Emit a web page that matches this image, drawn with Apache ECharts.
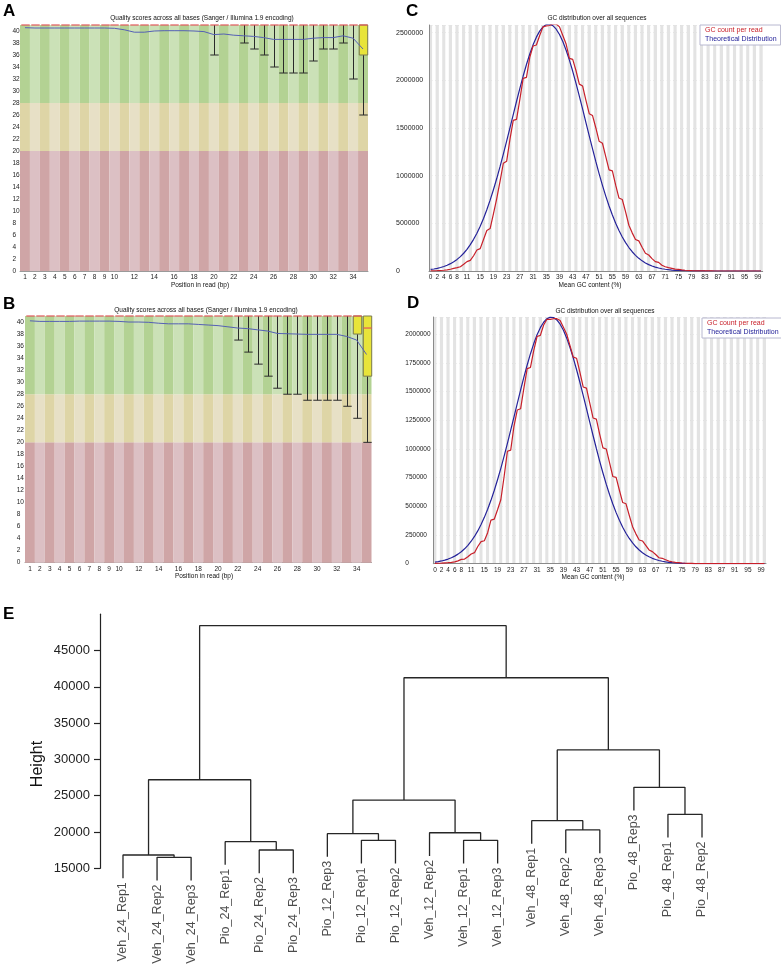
<!DOCTYPE html>
<html><head><meta charset="utf-8">
<script src="https://cdn.jsdelivr.net/npm/echarts@6/dist/echarts.min.js"></script>
<style>html,body{margin:0;padding:0;background:#fff}#c{width:781px;height:967px}</style>
</head><body><div id="c"></div>
<script>
// ================= DATA =================
// Panels A/B: per-base quality
const qPositions = ['1','2','3','4','5','6','7','8','9','10','11','12','13','14','15','16','17','18','19','20','21','22','23','24','25','26','27','28','29','30','31','32','33','34','35'];
const qTickLabels = ['1','2','3','4','5','6','7','8','9','10','12','14','16','18','20','22','24','26','28','30','32','34'];
const qZoneBounds = [20, 28, 41]; // poor / reasonable / good (upper bounds)

const qaMean = [40.55,40.5,40.5,40.5,40.5,40.5,40.5,40.5,40.5,40.45,40.2,39.8,39.8,40.0,40.05,40.05,40.05,40.0,39.9,39.4,39.5,39.3,39.2,39.1,38.9,38.6,38.6,38.6,38.6,38.8,38.9,38.9,39.2,38.8,37.0];
const qaLow    = [41,41,41,41,41,41,41,41,41,41,41,41,41,41,41,41,41,41,41,36,41,41,38,37,36,34,33,33,33,35,37,37,38,32,26];
const qaQ1     = [41,41,41,41,41,41,41,41,41,41,41,41,41,41,41,41,41,41,41,41,41,41,41,41,41,41,41,41,41,41,41,41,41,41,36];
const qaMedian = [41,41,41,41,41,41,41,41,41,41,41,41,41,41,41,41,41,41,41,41,41,41,41,41,41,41,41,41,41,41,41,41,41,41,41];
const qaQ3     = [41,41,41,41,41,41,41,41,41,41,41,41,41,41,41,41,41,41,41,41,41,41,41,41,41,41,41,41,41,41,41,41,41,41,41];
const qaHigh   = [41,41,41,41,41,41,41,41,41,41,41,41,41,41,41,41,41,41,41,41,41,41,41,41,41,41,41,41,41,41,41,41,41,41,41];

const qbMean = [40.2,40.1,40.1,40.1,40.1,40.15,40.15,40.15,40.15,40.1,40.0,40.0,39.95,39.8,39.7,39.7,39.7,39.6,39.5,39.4,39.2,39.0,38.9,38.7,38.5,38.1,38.05,38.0,37.95,37.95,37.95,37.95,37.6,37.0,34.6];
const qbLow    = [41,41,41,41,41,41,41,41,41,41,41,41,41,41,41,41,41,41,41,41,41,37,35,33,31,29,28,28,27,27,27,27,26,24,20];
const qbQ1     = [41,41,41,41,41,41,41,41,41,41,41,41,41,41,41,41,41,41,41,41,41,41,41,41,41,41,41,41,41,41,41,41,41,38,31];
const qbMedian = [41,41,41,41,41,41,41,41,41,41,41,41,41,41,41,41,41,41,41,41,41,41,41,41,41,41,41,41,41,41,41,41,41,41,39];
const qbQ3     = [41,41,41,41,41,41,41,41,41,41,41,41,41,41,41,41,41,41,41,41,41,41,41,41,41,41,41,41,41,41,41,41,41,41,41];
const qbHigh   = [41,41,41,41,41,41,41,41,41,41,41,41,41,41,41,41,41,41,41,41,41,41,41,41,41,41,41,41,41,41,41,41,41,41,41];

// Panels C/D: GC distribution
const gcPercent = ['0','1','2','3','4','5','6','7','8','9','10','11','12','13','14','15','16','17','18','19','20','21','22','23','24','25','26','27','28','29','30','31','32','33','34','35','36','37','38','39','40','41','42','43','44','45','46','47','48','49','50','51','52','53','54','55','56','57','58','59','60','61','62','63','64','65','66','67','68','69','70','71','72','73','74','75','76','77','78','79','80','81','82','83','84','85','86','87','88','89','90','91','92','93','94','95','96','97','98','99','100'];
const gcTickLabels = ['0','2','4','6','8','11','15','19','23','27','31','35','39','43','47','51','55','59','63','67','71','75','79','83','87','91','95','99'];

const gcCountC = [1000,2000,3000,5000,8000,12000,18000,28000,36000,45000,
  70000,98000,112000,160000,220000,235000,330000,425000,445000,600000,
  760000,940000,1130000,1150000,1380000,1580000,1590000,1800000,2020000,2030000,
  2240000,2360000,2370000,2470000,2560000,2570000,2575000,2590000,2590000,2560000,
  2470000,2380000,2230000,2220000,2100000,1960000,1940000,1790000,1650000,1630000,
  1500000,1360000,1340000,1200000,1060000,1050000,900000,765000,750000,620000,
  480000,400000,330000,316000,250000,186000,168000,130000,98000,90000,
  60000,45000,35000,28000,20000,17000,12000,8000,5000,3000,
  2000,1000,1000,1000,500,500,0,0,0,0,
  0,0,0,0,0,0,0,0,0,0,0];
const gcTheoryC = [16100,21300,28000,36500,47200,60500,77000,97200,121700,151200,
  186100,227600,276100,332100,396300,469300,551400,642600,742800,852100,
  969700,1094500,1225800,1361800,1500900,1641000,1780100,1915600,2044800,2165800,
  2275300,2371700,2452500,2515700,2560200,2585000,2589100,2572600,2535900,2479900,
  2406100,2315700,2211100,2094500,1968100,1834800,1697000,1556800,1417200,1279800,
  1146300,1018900,898300,785600,681800,586900,501300,424600,356900,297600,
  246100,202000,164400,132800,106400,84600,66700,52200,40500,31200,
  23800,18100,13600,10100,7500,5500,4000,2900,2100,1500,
  1000,700,500,350,250,150,100,50,50,0,
  0,0,0,0,0,0,0,0,0,0,0];

const gcCountD = [3000,4000,5000,7000,9000,12000,16000,25000,38000,40000,
  60000,85000,96000,150000,192000,200000,270000,380000,388000,470000,
  557000,760000,980000,990000,1200000,1340000,1350000,1530000,1700000,1710000,
  1860000,1980000,1990000,2080000,2130000,2130000,2135000,2135000,2120000,2060000,
  2000000,1900000,1800000,1790000,1670000,1540000,1530000,1400000,1270000,1260000,
  1130000,1010000,1000000,880000,760000,752000,640000,533000,522000,420000,
  323000,260000,207000,198000,160000,120000,105000,80000,52000,47000,
  35000,23000,17000,12000,9000,6000,4000,3000,2000,1000,
  0,0,0,0,0,0,0,0,0,0,
  0,0,0,0,0,0,0,0,0,0,0];
const gcTheoryD = [13700,18200,23900,31200,40400,51800,66000,83400,104400,129800,
  160000,195700,237400,285700,341000,403800,474100,552300,638100,731400,
  831400,937600,1048800,1163600,1280500,1397900,1513600,1625600,1731800,1830100,
  1918400,1994600,2057100,2104400,2135300,2149200,2145700,2124800,2087300,2033900,
  1965700,1884500,1791800,1690100,1581300,1467600,1351100,1233500,1117400,1003800,
  894400,790600,693200,602900,520100,445100,377800,318000,265500,219900,
  180800,147300,119100,95500,76000,59900,46900,36400,28000,21400,
  16200,12200,9100,6700,4900,3600,2600,1800,1300,900,
  600,400,300,200,100,0,0,0,0,0,
  0,0,0,0,0,0,0,0,0,0,0];

// Panel E: hierarchical clustering dendrogram (leaves in display order)
const leafLabels = ['Veh_24_Rep1','Veh_24_Rep2','Veh_24_Rep3','Pio_24_Rep1','Pio_24_Rep2','Pio_24_Rep3',
  'Pio_12_Rep3','Pio_12_Rep1','Pio_12_Rep2','Veh_12_Rep2','Veh_12_Rep1','Veh_12_Rep3',
  'Veh_48_Rep1','Veh_48_Rep2','Veh_48_Rep3','Pio_48_Rep3','Pio_48_Rep1','Pio_48_Rep2'];
const leafBottoms = [13640,13320,13320,15480,14330,14330,16580,15660,15660,16710,15660,15660,18370,17090,17090,22970,19250,19250];
// negative = leaf (1-based display index), positive = earlier merge (1-based)
const mergePairs = [[-2,-3],[-1,1],[-5,-6],[-4,3],[-8,-9],[-11,-12],[-7,5],[-10,6],[-14,-15],[-13,9],
  [-17,-18],[7,8],[-16,11],[2,4],[10,13],[12,15],[14,16]];
const mergeHeights = [16510,16830,17520,18670,18850,18850,19770,19900,20280,21560,22440,24400,26160,27200,31300,41250,48420];
const heightTicks = [15000,20000,25000,30000,35000,40000,45000];

// ================= STYLE =================
const FONT = 'Liberation Sans, Arial, sans-serif';
const zoneDark  = ['#cfa5a6','#ded5a6','#b3d293'];
const zoneLight = ['#dcc0c4','#e7e0c6','#cbe1b7'];
const plain = v => String(v);

const grids = [
  {left:20, top:25, width:348, height:246},          // A
  {left:25, top:316, width:346.5, height:246.7},     // B
  {left:429, top:25, width:333.7, height:246},       // C
  {left:433.3, top:317, width:332.7, height:246.7},  // D
  {left:100, top:614.2, width:625, height:254.1}     // E
];

function qXAxis(gi){
  return {type:'category', gridIndex:gi, data:qPositions, boundaryGap:true,
    axisTick:{show:false}, axisLine:{show:true, lineStyle:{color:'#9a9a9a', width:1}},
    axisLabel:{interval:(i,v)=>qTickLabels.indexOf(v)>=0, fontSize:6.5, color:'#222', fontFamily:FONT, margin:3},
    splitLine:{show:false}};
}
function qYAxis(gi, margin){
  return {type:'value', gridIndex:gi, min:0, max:41, interval:2,
    axisLine:{show:false}, axisTick:{show:false}, splitLine:{show:false},
    axisLabel:{fontSize:6.5, color:'#222', fontFamily:FONT, margin:margin, align:'left', showMaxLabel:false, formatter:plain}};
}
function gcXAxis(gi){
  return {type:'category', gridIndex:gi, data:gcPercent, boundaryGap:true,
    axisTick:{show:false}, axisLine:{show:true, lineStyle:{color:'#8a8a8a', width:1}},
    axisLabel:{interval:(i,v)=>gcTickLabels.indexOf(v)>=0, fontSize:6.5, color:'#222', fontFamily:FONT, margin:3},
    splitArea:{show:true, interval:0, areaStyle:{color:['#e3e3e3','#ffffff']}},
    splitLine:{show:false}};
}
function gcYAxis(gi, max, interval, fs, margin){
  return {type:'value', gridIndex:gi, min:0, max:max, interval:interval,
    axisLine:{show:true, lineStyle:{color:'#8a8a8a'}}, axisTick:{show:false},
    splitLine:{show:true, lineStyle:{color:'#c8c8c8', width:1}},
    axisLabel:{fontSize:fs, color:'#222', fontFamily:FONT, margin:margin, align:'left', showMaxLabel:false, formatter:plain}};
}

function boxRender(params, api){
  const i = api.value(0);
  const low = api.value(1), q1 = api.value(2), med = api.value(3), q3 = api.value(4), high = api.value(5);
  const pLow = api.coord([i, low]), pQ1 = api.coord([i, q1]), pMed = api.coord([i, med]);
  const pQ3 = api.coord([i, q3]), pHigh = api.coord([i, high]);
  const w = api.size([1, 0])[0] * 0.85;
  const x = Math.round(pLow[0]) + 0.5;
  const ch = [];
  const wStyle = {stroke:'#2a2a2a', lineWidth:1};
  if (low < q1) {
    ch.push({type:'line', shape:{x1:x, y1:pQ1[1], x2:x, y2:pLow[1]}, style:wStyle});
    ch.push({type:'line', shape:{x1:x-w/2, y1:pLow[1], x2:x+w/2, y2:pLow[1]}, style:wStyle});
  }
  if (high > q3) {
    ch.push({type:'line', shape:{x1:x, y1:pQ3[1], x2:x, y2:pHigh[1]}, style:wStyle});
    ch.push({type:'line', shape:{x1:x-w/2, y1:pHigh[1], x2:x+w/2, y2:pHigh[1]}, style:wStyle});
  }
  if (q3 > q1) {
    ch.push({type:'rect', shape:{x:x-w/2, y:pQ3[1], width:w, height:pQ1[1]-pQ3[1]},
      style:{fill:'#e8e43a', stroke:'#7a7a50', lineWidth:1}});
  }
  ch.push({type:'line', shape:{x1:x-w/2, y1:pMed[1], x2:x+w/2, y2:pMed[1]}, style:{stroke:'#e0585a', lineWidth:1.2}});
  return {type:'group', children:ch};
}

function qualitySeries(gi, mean, low, q1, med, q3, high){
  const s = [];
  const zoneVals = [qZoneBounds[0], qZoneBounds[1]-qZoneBounds[0], qZoneBounds[2]-qZoneBounds[1]];
  zoneVals.forEach((zv, z) => {
    s.push({type:'bar', xAxisIndex:gi, yAxisIndex:gi, stack:'zone'+gi, silent:true, z:1,
      barCategoryGap:'0%', data:qPositions.map(()=>zv),
      itemStyle:{color:(p)=> p.dataIndex % 2 === 0 ? zoneDark[z] : zoneLight[z]}});
  });
  s.push({type:'custom', xAxisIndex:gi, yAxisIndex:gi, z:3, silent:true, renderItem:boxRender,
    encode:{x:0, y:[1,2,3,4,5]},
    data:qPositions.map((p,i)=>[i, low[i], q1[i], med[i], q3[i], high[i]])});
  s.push({type:'line', xAxisIndex:gi, yAxisIndex:gi, z:4, silent:true, data:mean, symbol:'none',
    lineStyle:{color:'#5560b5', width:1}});
  return s;
}

function gcSeries(gi, count, theory){
  return [
    {type:'line', name:'GC count per read', xAxisIndex:gi, yAxisIndex:gi, data:count, symbol:'none', z:4,
      lineStyle:{color:'#c8202a', width:1.2}},
    {type:'line', name:'Theoretical Distribution', xAxisIndex:gi, yAxisIndex:gi, data:theory, symbol:'none', z:3,
      lineStyle:{color:'#25239a', width:1.2}}
  ];
}

// dendrogram
function dendroSeries(gi){
  const s = [];
  const clusterX = [];
  const xOf = id => id < 0 ? -id : clusterX[id-1];
  const yOf = id => id < 0 ? leafBottoms[-id-1] : mergeHeights[id-1];
  mergePairs.forEach(([a,b], k) => {
    const xa = xOf(a), xb = xOf(b), ya = yOf(a), yb = yOf(b), h = mergeHeights[k];
    clusterX[k] = (xa + xb) / 2;
    s.push({type:'line', xAxisIndex:gi, yAxisIndex:gi, clip:false, silent:true, symbol:'none',
      data:[[xa,ya],[xa,h],[xb,h],[xb,yb]], lineStyle:{color:'#262626', width:1.3}});
  });
  s.push({type:'scatter', xAxisIndex:gi, yAxisIndex:gi, clip:false, silent:true, symbolSize:0.01,
    data:leafLabels.map((n,i)=>[i+1, leafBottoms[i]]),
    label:{show:true, position:'bottom', distance:4, rotate:90, align:'right', verticalAlign:'middle',
      formatter:(p)=>leafLabels[p.dataIndex], fontSize:12.5, color:'#1e1e1e', fontFamily:FONT}});
  return s;
}

const legendBase = {orient:'vertical', selectedMode:false, icon:'rect', itemWidth:0, itemHeight:0, itemGap:2,
  padding:[2,4,2,0], backgroundColor:'#ffffff', borderColor:'#b8b8d0', borderWidth:1,
  textStyle:{fontSize:7, fontFamily:FONT}};

const option = {
  animation:false,
  backgroundColor:'#ffffff',
  grid: grids,
  xAxis: [qXAxis(0), qXAxis(1), gcXAxis(2), gcXAxis(3),
    {type:'value', gridIndex:4, min:0.325, max:18.675, show:false}],
  yAxis: [qYAxis(0, 7.5), qYAxis(1, 8.3), gcYAxis(2, 2580000, 500000, 7, 33), gcYAxis(3, 2150000, 250000, 6.5, 28),
    {type:'value', gridIndex:4, min:15000, max:50000, interval:5000,
      axisLine:{show:true, lineStyle:{color:'#222', width:1.2}},
      axisTick:{show:true, length:6, customValues:heightTicks, lineStyle:{color:'#222', width:1.2}},
      axisLabel:{customValues:heightTicks, fontSize:13, color:'#222', fontFamily:FONT, margin:10, formatter:plain},
      splitLine:{show:false}}],
  legend: [
    Object.assign({}, legendBase, {left:700, top:25,
      data:[{name:'GC count per read', textStyle:{color:'#c8202a'}}, {name:'Theoretical Distribution', textStyle:{color:'#25239a'}}]}),
    Object.assign({}, legendBase, {left:702, top:318,
      data:[{name:'GC count per read', textStyle:{color:'#c8202a'}}, {name:'Theoretical Distribution', textStyle:{color:'#25239a'}}]})
  ],
  graphic: [
    {type:'text', x:3, y:11.5, style:{text:'A', font:'bold 17px '+FONT, fill:'#000', textVerticalAlign:'middle'}},
    {type:'text', x:3, y:304, style:{text:'B', font:'bold 17px '+FONT, fill:'#000', textVerticalAlign:'middle'}},
    {type:'text', x:406, y:11, style:{text:'C', font:'bold 17px '+FONT, fill:'#000', textVerticalAlign:'middle'}},
    {type:'text', x:407, y:303.5, style:{text:'D', font:'bold 17px '+FONT, fill:'#000', textVerticalAlign:'middle'}},
    {type:'text', x:3, y:614, style:{text:'E', font:'bold 17px '+FONT, fill:'#000', textVerticalAlign:'middle'}},
    {type:'text', x:202, y:18, style:{text:'Quality scores across all bases (Sanger / Illumina 1.9 encoding)', font:'6.5px '+FONT, fill:'#111', textAlign:'center', textVerticalAlign:'middle'}},
    {type:'text', x:200, y:285, style:{text:'Position in read (bp)', font:'6.5px '+FONT, fill:'#111', textAlign:'center', textVerticalAlign:'middle'}},
    {type:'text', x:206, y:310, style:{text:'Quality scores across all bases (Sanger / Illumina 1.9 encoding)', font:'6.5px '+FONT, fill:'#111', textAlign:'center', textVerticalAlign:'middle'}},
    {type:'text', x:204, y:576, style:{text:'Position in read (bp)', font:'6.5px '+FONT, fill:'#111', textAlign:'center', textVerticalAlign:'middle'}},
    {type:'text', x:597, y:18, style:{text:'GC distribution over all sequences', font:'6.5px '+FONT, fill:'#111', textAlign:'center', textVerticalAlign:'middle'}},
    {type:'text', x:590, y:285, style:{text:'Mean GC content (%)', font:'6.5px '+FONT, fill:'#111', textAlign:'center', textVerticalAlign:'middle'}},
    {type:'text', x:605, y:311, style:{text:'GC distribution over all sequences', font:'6.5px '+FONT, fill:'#111', textAlign:'center', textVerticalAlign:'middle'}},
    {type:'text', x:593, y:577, style:{text:'Mean GC content (%)', font:'6.5px '+FONT, fill:'#111', textAlign:'center', textVerticalAlign:'middle'}},
    {type:'text', x:38, y:764, rotation:Math.PI/2, style:{text:'Height', font:'16px '+FONT, fill:'#111', textAlign:'center', textVerticalAlign:'middle'}}
  ],
  series: [].concat(
    qualitySeries(0, qaMean, qaLow, qaQ1, qaMedian, qaQ3, qaHigh),
    qualitySeries(1, qbMean, qbLow, qbQ1, qbMedian, qbQ3, qbHigh),
    gcSeries(2, gcCountC, gcTheoryC),
    gcSeries(3, gcCountD, gcTheoryD),
    dendroSeries(4)
  )
};
const chart = echarts.init(document.getElementById('c'), null, {renderer:'canvas'});
chart.setOption(option);
</script>
</body></html>
